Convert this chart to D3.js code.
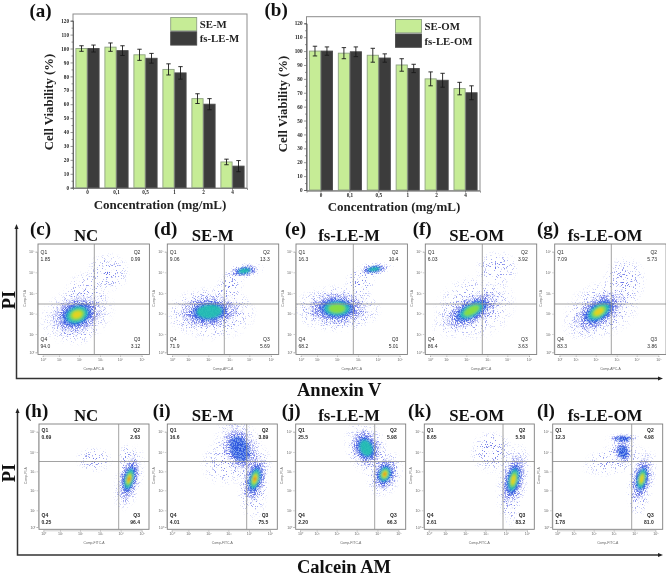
<!DOCTYPE html>
<html><head><meta charset="utf-8">
<style>html,body{margin:0;padding:0;background:#fff}svg{display:block;filter:blur(.3px)}</style>
<script src="https://cdn.jsdelivr.net/npm/d3@7/dist/d3.min.js"></script></head>
<body><svg id="c" width="666" height="575"></svg>
<script>
// ---- bar data ----
const concentrations = ["0","0.1","0.5","1","2","4"];
const seM   = [100,101,95.5,85,64,18.5];
const seMErr= [2,3,4,4,3.5,2];
const fsM   = [100,98.5,93,82.5,60,15.5];
const fsMErr= [2.5,3.5,3.5,4.5,4,4];
const seOM   = [100,98.5,97,90,80,73];
const seOMErr= [3.5,4,5,4.5,5,4.5];
const fsOM   = [100,99.5,95,87.5,79,70];
const fsOMErr= [3,3.5,3,3,5,5];
const viabilityTicks = [0,10,20,30,40,50,60,70,80,90,100,110,120];

// ---- flow panels: titles, letters, quadrant percentages Q1,Q2,Q3,Q4 ----
const titles = ["NC","SE-M","fs-LE-M","SE-OM","fs-LE-OM"];
const lettersApc = ["(c)","(d)","(e)","(f)","(g)"];
const lettersFitc = ["(h)","(i)","(j)","(k)","(l)"];
const quadApc = [["1.85","0.99","3.12","94.0"],["9.06","13.3","5.69","71.9"],["16.3","10.4","5.01","68.2"],["6.03","3.92","3.63","86.4"],["7.09","5.73","3.86","83.3"]];
const quadFitc = [["0.69","2.63","96.4","0.25"],["16.6","3.89","75.5","4.01"],["25.5","5.98","66.3","2.20"],["8.65","5.50","83.2","2.61"],["12.3","4.98","81.0","1.78"]];
const decades = [0,1,2,3,4,5];
// density clusters read by eye: [x decade, y decade, x radius, y radius, tilt deg, peak level 0-5]
const clustersApc = [
 [[2.3,2.8,1.0,1.2,0,0],[1.9,1.5,1.0,1.0,0,0],[3.4,4.0,1.0,.9,0,0],[1.9,1.95,1.15,.8,-20,4]],
 [[2.2,2.0,2.0,1.25,0,0],[3.0,3.3,.6,.9,30,0],[3.7,4.05,.75,.35,-8,0],[2.05,2.1,1.3,.7,-4,2],[3.75,4.07,.6,.24,-8,2]],
 [[2.0,2.2,2.0,1.0,0,0],[3.1,3.5,.7,.7,40,0],[3.6,4.1,.8,.35,-8,0],[2.0,2.25,1.3,.7,0,3],[3.8,4.15,.6,.2,-8,2]],
 [[2.4,2.3,1.9,1.5,-15,0],[3.5,4.2,1.0,.8,0,0],[2.25,2.15,1.3,.6,-28,3]],
 [[2.3,2.2,1.8,1.3,-20,0],[3.4,3.6,1.0,1.1,0,0],[2.15,2.1,1.2,.66,-33,4]]
];
const clustersFitc = [
 [[2.7,3.6,.85,.6,0,0],[4.3,3.6,.45,.75,0,0],[4.4,2.6,.55,1.2,14,0],[4.4,2.6,.42,1.0,14,5]],
 [[3.0,3.5,1.3,1.1,-20,0],[4.2,2.2,.7,1.6,0,0],[3.55,4.15,.7,1.0,-25,1],[4.28,2.6,.46,1.0,14,5]],
 [[3.5,4.1,.85,.95,-20,0],[4.3,2.9,.75,1.0,20,0],[3.45,4.2,.62,.85,-22,2],[4.35,2.85,.52,.72,20,5]],
 [[3.3,4.0,1.0,1.0,-25,0],[4.2,1.6,.5,1.3,0,0],[3.3,4.15,.6,.72,-20,0],[4.35,2.55,.48,1.12,12,4]],
 [[3.0,3.6,1.5,.7,-15,0],[4.2,1.9,.5,1.2,0,0],[3.45,4.65,.55,.17,0,1],[3.45,4.0,.38,.5,-10,1],[4.35,2.6,.42,.98,12,4]]
];

// ---- layout ----
const svg = d3.select("#c");
const SERIF = "'Liberation Serif',serif", SANS = "'Liberation Sans',sans-serif";
const defs = svg.append("defs");
function speckle(id, k, b, freq, seed){
  const f = defs.append("filter").attr("id",id).attr("filterUnits","userSpaceOnUse")
    .attr("x",0).attr("y",0).attr("width",666).attr("height",575)
    .attr("color-interpolation-filters","sRGB");
  f.append("feTurbulence").attr("type","fractalNoise").attr("baseFrequency",freq).attr("numOctaves",2).attr("seed",seed).attr("result","n");
  f.append("feColorMatrix").attr("in","n").attr("type","matrix")
    .attr("values",`0 0 0 0 0 0 0 0 0 0 0 0 0 0 0 ${k} 0 0 0 ${b}`).attr("result","m");
  f.append("feComposite").attr("in","SourceGraphic").attr("in2","m").attr("operator","in");
}
speckle("sparse",14,-8.6,.9,3);
speckle("medium",14,-7.9,.9,8);
speckle("dense",14,-6.6,.9,5);
const fb = defs.append("filter").attr("id","soft"); fb.append("feGaussianBlur").attr("stdDeviation",.9);
function fade(id,a,b,c){
  const rg = defs.append("radialGradient").attr("id",id);
  rg.append("stop").attr("offset","0%").attr("stop-color",a).attr("stop-opacity",.95);
  rg.append("stop").attr("offset","60%").attr("stop-color",b).attr("stop-opacity",.65);
  rg.append("stop").attr("offset","100%").attr("stop-color",c).attr("stop-opacity",0);
}
fade("fade","#5560e4","#7a84ea","#a0a8f2");
fade("fadeD","#2a3ad8","#3a4ade","#6470e6");

function barPanel(o){
  const g = svg.append("g");
  const x = d3.scaleBand().domain(concentrations).range([o.left,o.right]).paddingInner(5/29).paddingOuter(2.5/29);
  const x1 = d3.scaleBand().domain([0,1]).range([0,x.bandwidth()]);
  const y = d3.scaleLinear().domain([0,120]).range([o.y0,o.y120]);
  g.append("rect").attr("x",o.left).attr("y",o.top).attr("width",o.right-o.left).attr("height",o.bottom-o.top)
    .attr("fill","none").attr("stroke","#8c8c8c").attr("stroke-width",1);
  o.series.forEach((s,si)=>{
    g.selectAll(null).data(s.v).join("rect")
      .attr("x",(d,i)=>x(concentrations[i])+x1(si)+.4).attr("width",x1.bandwidth()-.8)
      .attr("y",d=>y(d)).attr("height",d=>y(0)-y(d))
      .attr("fill",s.fill).attr("stroke",s.stroke).attr("stroke-width",.9);
  });
  o.series.forEach((s,si)=>{
    const cx = i=>x(concentrations[i])+x1(si)+x1.bandwidth()/2;
    const e = g.selectAll(null).data(s.v).join("g").attr("stroke","#1a1a1a").attr("stroke-width",.9);
    e.append("line").attr("x1",(d,i)=>cx(i)).attr("x2",(d,i)=>cx(i)).attr("y1",(d,i)=>y(d+s.e[i])).attr("y2",(d,i)=>y(d-s.e[i]));
    e.append("line").attr("x1",(d,i)=>cx(i)-2.2).attr("x2",(d,i)=>cx(i)+2.2).attr("y1",(d,i)=>y(d+s.e[i])).attr("y2",(d,i)=>y(d+s.e[i]));
    e.append("line").attr("x1",(d,i)=>cx(i)-2.2).attr("x2",(d,i)=>cx(i)+2.2).attr("y1",(d,i)=>y(d-s.e[i])).attr("y2",(d,i)=>y(d-s.e[i]));
  });
  const ya = g.append("g").attr("transform",`translate(${o.left},0)`)
    .call(d3.axisLeft(y).tickValues(viabilityTicks).tickSize(2.5).tickPadding(1.5));
  ya.append("g").call(d3.axisLeft(y).tickValues(viabilityTicks.slice(0,-1).map(d=>d+5)).tickSize(1.5).tickFormat(""));
  const xa = g.append("g").attr("transform",`translate(0,${o.bottom})`)
    .call(d3.axisBottom(x).tickSize(2).tickPadding(.5).tickFormat(d=>d.replace(".",",")));
  [ya,xa].forEach(a=>{
    a.selectAll("text").attr("font-family",SERIF).attr("font-weight","bold").attr("font-size",5.2).attr("fill","#222");
    a.selectAll("line,path").attr("stroke","#555").attr("stroke-width",.6);
  });
  o.series.forEach((s,si)=>{
    g.append("rect").attr("x",o.legX).attr("y",o.legY[si]).attr("width",26).attr("height",13.3)
      .attr("fill",s.fill).attr("stroke",s.stroke).attr("stroke-width",.9);
    g.append("text").attr("x",o.legX+29).attr("y",o.legY[si]+10.6).text(s.name)
      .attr("font-family",SERIF).attr("font-weight","bold").attr("font-size",10.8).attr("fill","#222");
  });
  g.append("text").attr("x",o.letterX).attr("y",o.letterY).text(o.letter)
    .attr("font-family",SERIF).attr("font-weight","bold").attr("font-size",19).attr("fill","#111");
  g.append("text").attr("transform",`translate(${o.ylabX},${o.ylabY}) rotate(-90)`).attr("text-anchor","middle")
    .text("Cell Viability (%)").attr("font-family",SERIF).attr("font-weight","bold").attr("font-size",12.8).attr("fill","#222");
  g.append("text").attr("x",o.xlabX).attr("y",o.xlabY).attr("text-anchor","middle")
    .text("Concentration (mg/mL)").attr("font-family",SERIF).attr("font-weight","bold").attr("font-size",13).attr("fill","#222");
}
const GREEN="#c6ec96", GREENS="#8fa382", DARK="#3c3c3c", DARKS="#4b4b4b";
barPanel({left:73,right:247,top:14,bottom:188,y0:187.7,y120:20.7,legX:170.7,legY:[17.5,31.8],letter:"(a)",letterX:29.5,letterY:17,ylabX:53,ylabY:102,xlabX:160,xlabY:208.5,
 series:[{name:"SE-M",v:seM,e:seMErr,fill:GREEN,stroke:GREENS},{name:"fs-LE-M",v:fsM,e:fsMErr,fill:DARK,stroke:DARKS}]});
barPanel({left:306.5,right:480,top:16.7,bottom:190.7,y0:190,y120:23.3,legX:395.5,legY:[19.5,34],letter:"(b)",letterX:264.5,letterY:16,ylabX:287,ylabY:104,xlabX:394,xlabY:211,
 series:[{name:"SE-OM",v:seOM,e:seOMErr,fill:GREEN,stroke:GREENS},{name:"fs-LE-OM",v:fsOM,e:fsOMErr,fill:DARK,stroke:DARKS}]});

const levelScale = {2:[.66,"#1c5ce0"],3:[.48,"#22c3b0"],4:[.33,"#8fe03a"],5:[.21,"#f0d020"],6:[.1,"#f0401e"]};

function flow(o){
  const g = svg.append("g");
  const id = "clip"+o.id;
  defs.append("clipPath").attr("id",id).append("rect").attr("x",o.x).attr("y",o.top).attr("width",o.w).attr("height",o.h);
  const x = d3.scaleLinear().domain(decades).range(o.xOff.map(d=>o.x+d));
  const y = d3.scaleLinear().domain(decades).range(o.yOff.map(d=>o.top+d));
  const ell = (sel,c,f)=>sel.append("ellipse")
     .attr("transform",`translate(${x(c[0])},${y(c[1])}) rotate(${c[4]})`)
     .attr("rx",c[2]*f*20).attr("ry",c[3]*f*20);
  const p = g.append("g").attr("clip-path",`url(#${id})`);
  const spars = p.append("g").attr("filter","url(#sparse)");
  const med = p.append("g").attr("filter","url(#medium)");
  const dens = p.append("g").attr("filter","url(#dense)");
  const core = p.append("g").attr("filter","url(#soft)");
  o.clusters.forEach(c=>{
    if(c[5]===0){ ell(spars,c,1.15).attr("fill","url(#fade)"); return; }
    ell(spars,c,1.8).attr("fill","url(#fade)");
    ell(med,c,1.4).attr("fill","url(#fade)");
    ell(dens,c,1.15).attr("fill","url(#fadeD)");
  });
  o.clusters.forEach(c=>{
    for(let l=2;l<=c[5]+1;l++){
      const [f,col]=levelScale[l];
      ell(core,c,f).attr("fill",col).attr("opacity",l===2?.6:.9);
    }
  });
  g.append("rect").attr("x",o.x).attr("y",o.top).attr("width",o.w).attr("height",o.h)
    .attr("fill","none").attr("stroke","#7d7d7d").attr("stroke-width",.9);
  g.append("line").attr("x1",o.gateX).attr("x2",o.gateX).attr("y1",o.top).attr("y2",o.top+o.h).attr("stroke","#8a8a8a").attr("stroke-width",.8);
  g.append("line").attr("x1",o.x).attr("x2",o.x+o.w).attr("y1",o.gateY).attr("y2",o.gateY).attr("stroke","#8a8a8a").attr("stroke-width",.8);
  const sup = ["\u2070","\u00b9","\u00b2","\u00b3","\u2074","\u2075"];
  const fmt = d=>"10"+sup[d];
  const xa = g.append("g").attr("transform",`translate(0,${o.top+o.h+1})`).call(d3.axisBottom(x).tickValues(decades).tickFormat(fmt).tickSize(1.5).tickPadding(1));
  const ya = g.append("g").attr("transform",`translate(${o.x-1},0)`).call(d3.axisLeft(y).tickValues(decades).tickFormat(fmt).tickSize(1.5).tickPadding(1));
  [xa,ya].forEach(a=>{
    a.selectAll("text").attr("font-family",SANS).attr("font-size",3.6).attr("fill","#666");
    a.selectAll("line,path").attr("stroke","#888").attr("stroke-width",.4);
  });
  g.append("text").attr("x",o.x+o.w/2).attr("y",o.top+o.h+o.xlabDy).attr("text-anchor","middle").text(o.xName)
    .attr("font-family",SANS).attr("font-size",3.4).attr("fill","#666");
  g.append("text").attr("transform",`translate(${o.x-12.5},${o.top+o.h/2-1}) rotate(-90)`).attr("text-anchor","middle").text("Comp-PI-A")
    .attr("font-family",SANS).attr("font-size",3.4).attr("fill","#666");
  const qt = (txt,px,py,a)=>g.append("text").attr("x",px).attr("y",py).attr("text-anchor",a).text(txt)
    .attr("font-family",SANS).attr("font-weight",o.qWeight).attr("font-size",5).attr("fill","#2a2a2a");
  const L=o.x+2.5, R=o.x+o.w-9, T1=o.top+o.qTop, T2=T1+o.qGap, B1=o.top+o.qBot, B2=B1+o.qGap;
  qt("Q1",L,T1,"start"); qt(o.q[0],L,T2,"start");
  qt("Q2",R,T1,"end");  qt(o.q[1],R,T2,"end");
  qt("Q3",R,B1,"end");  qt(o.q[2],R,B2,"end");
  qt("Q4",L,B1,"start"); qt(o.q[3],L,B2,"start");
  g.append("text").attr("x",o.titleX).attr("y",o.titleY).attr("text-anchor","middle").text(o.title)
    .attr("font-family",SERIF).attr("font-weight","bold").attr("font-size",16.8).attr("fill","#111");
  g.append("text").attr("x",o.letX).attr("y",o.letY).text(o.letter)
    .attr("font-family",SERIF).attr("font-weight","bold").attr("font-size",19).attr("fill","#111");
}
const titleCx = [86,212.7,349,476.7,605];
const apcX = [38,167.3,296,425.3,554.7], apcGate=[94.3,224.3,353.3,482.3,611.3], apcLet=[30,154,285,412.7,537];
const fitcX= [39,167.3,295.7,424.3,552.7], fitcGate=[118.7,246.7,374.7,503,631.7], fitcLet=[25,152.7,281.7,408,537];
titles.forEach((t,i)=>flow({id:"a"+i,x:apcX[i],top:244,w:111.4,h:110.5,gateX:apcGate[i],gateY:304,
  xOff:[4.7,21,41,62,82,103.7],yOff:[108.3,90,69.7,49,28.3,7.7],clusters:clustersApc[i],q:quadApc[i],xName:"Comp-APC-A",xlabDy:15,
  qWeight:"normal",qTop:10,qGap:6.5,qBot:97,title:t,titleX:titleCx[i],titleY:241,letter:lettersApc[i],letX:apcLet[i],letY:235}));
titles.forEach((t,i)=>flow({id:"f"+i,x:fitcX[i],top:424,w:110,h:105.3,gateX:fitcGate[i],gateY:461.5,
  xOff:[4.3,21,41,61,81.7,102.7],yOff:[103,86.3,66.3,47.3,28,7.7],clusters:clustersFitc[i],q:quadFitc[i],xName:"Comp-FITC-A",xlabDy:15,
  qWeight:"bold",qTop:8,qGap:7,qBot:92.5,title:t,titleX:titleCx[i],titleY:421,letter:lettersFitc[i],letX:fitcLet[i],letY:416.5}));

// big axes
function bigAxes(x0,yTop,yBot,xEnd,name,nameX,nameY,piY){
  const g = svg.append("g").attr("stroke","#333").attr("stroke-width",1.5).attr("fill","none");
  g.append("path").attr("d",d3.line()([[x0,yTop+5],[x0,yBot],[xEnd-4,yBot]]));
  svg.append("path").attr("d",d3.line()([[x0-2,yTop+5],[x0,yTop],[x0+2,yTop+5]])+"Z").attr("fill","#222");
  svg.append("path").attr("d",d3.line()([[xEnd-5,yBot-2],[xEnd,yBot],[xEnd-5,yBot+2]])+"Z").attr("fill","#222");
  svg.append("text").attr("x",nameX).attr("y",nameY).text(name).attr("font-family",SERIF).attr("font-weight","bold").attr("font-size",18.5).attr("fill","#111");
  svg.append("text").attr("transform",`translate(15,${piY}) rotate(-90)`).attr("text-anchor","middle").text("PI")
    .attr("font-family",SERIF).attr("font-weight","bold").attr("font-size",18.5).attr("fill","#111");
}
bigAxes(16.5,224,378.5,663,"Annexin V",297,396,300);
bigAxes(17.5,408,555,663,"Calcein AM",297,572.5,473);
</script></body></html>
